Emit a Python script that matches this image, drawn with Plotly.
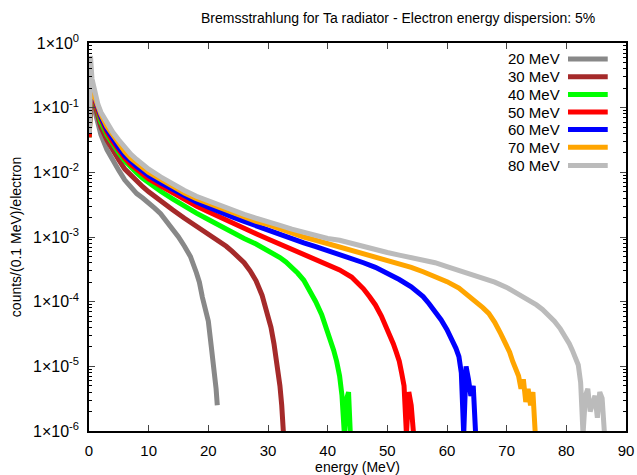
import plotly.graph_objects as go

# ---------------- data ----------------
series_names = ["20 MeV", "30 MeV", "40 MeV", "50 MeV", "60 MeV", "70 MeV", "80 MeV"]
series_colors = ["#888888", "#a52a2a", "#00ff00", "#ff0000", "#0000ff", "#ffa500", "#bbbbbb"]

energy_20 = [0.05, 0.25, 0.5, 1, 1.5, 2, 3, 4, 5, 6, 7, 8, 9, 10, 11, 12, 13, 14, 15, 16, 17, 18,
             18.5, 19, 19.5, 20, 20.5, 21, 21.3, 21.5]
counts_20 = [0.035, 0.166, 0.132, 0.083, 0.055, 0.038, 0.0224, 0.0151, 0.0107, 7.6e-3, 5.9e-3, 4.7e-3,
             4.0e-3, 3.4e-3, 2.8e-3, 2.3e-3, 1.78e-3, 1.35e-3, 1.0e-3, 7.2e-4, 5.0e-4, 2.8e-4,
             2.0e-4, 1.17e-4, 7.9e-5, 5.0e-5, 2.0e-5, 8.9e-6, 4.5e-6, 2.5e-6]

energy_30 = [0.05, 0.25, 0.5, 1, 1.5, 2, 3, 4, 5, 6, 7, 8, 9, 10, 12, 14, 16, 18, 20, 22, 23, 24, 25,
             26, 27, 28, 29, 30, 30.5, 31, 31.5, 32, 32.3, 32.6]
counts_30 = [0.035, 0.182, 0.158, 0.102, 0.071, 0.050, 0.0316, 0.0214, 0.0155, 0.0112, 8.9e-3, 7.2e-3,
             6.0e-3, 5.0e-3, 3.55e-3, 2.63e-3, 1.95e-3, 1.48e-3, 1.12e-3, 8.5e-4, 7.2e-4, 6.0e-4,
             5.0e-4, 4.0e-4, 3.0e-4, 2.1e-4, 1.26e-4, 6.3e-5, 4.0e-5, 2.24e-5, 1.12e-5, 5.0e-6,
             2.5e-6, 8.9e-7]

energy_40 = [0.05, 0.25, 0.5, 1, 1.5, 2, 3, 4, 5, 6, 7, 8, 9, 10, 12, 14, 16, 18, 20, 22, 24, 26, 28,
             30, 32, 33, 34, 35, 36, 37, 38, 39, 40, 40.5, 41, 41.5, 42, 42.4, 42.8, 43.2, 43.5, 43.8]
counts_40 = [0.035, 0.20, 0.174, 0.115, 0.083, 0.060, 0.038, 0.0269, 0.020, 0.0151, 0.012, 9.8e-3,
             8.1e-3, 6.9e-3, 5.1e-3, 3.9e-3, 2.95e-3, 2.34e-3, 1.86e-3, 1.48e-3, 1.17e-3, 9.5e-4,
             7.8e-4, 6.2e-4, 4.8e-4, 4.1e-4, 3.4e-4, 2.75e-4, 2.14e-4, 1.51e-4, 1.0e-4, 6.3e-5,
             3.5e-5, 2.5e-5, 1.78e-5, 1.2e-5, 7.1e-6, 3.5e-6, 8.9e-7, 3.2e-6, 4.0e-6, 8.9e-7]

energy_50 = [0.05, 0.25, 0.5, 1, 1.5, 2, 3, 4, 5, 6, 7, 8, 9, 10, 12, 14, 16, 18, 20, 22, 24, 26, 28,
             30, 32, 34, 36, 38, 40, 42, 44, 45, 46, 47, 48, 49, 50, 50.5, 51, 51.5, 52, 52.4, 52.8,
             53.2, 53.6, 54.0, 54.4]
counts_50 = [0.035, 0.209, 0.182, 0.123, 0.089, 0.068, 0.042, 0.0295, 0.0219, 0.0166, 0.0132, 0.011,
             9.3e-3, 7.9e-3, 6.2e-3, 4.8e-3, 3.7e-3, 3.0e-3, 2.45e-3, 2.0e-3, 1.62e-3, 1.35e-3,
             1.12e-3, 9.3e-4, 7.8e-4, 6.3e-4, 5.25e-4, 4.5e-4, 3.8e-4, 3.1e-4, 2.4e-4, 2.0e-4,
             1.58e-4, 1.2e-4, 8.9e-5, 6.0e-5, 3.8e-5, 3.0e-5, 2.24e-5, 1.66e-5, 1.2e-5, 7.9e-6,
             5.0e-6, 8.9e-7, 4.0e-6, 2.5e-6, 8.9e-7]

energy_60 = [0.05, 0.25, 0.5, 1, 1.5, 2, 3, 4, 5, 6, 7, 8, 9, 10, 12, 14, 16, 18, 20, 22, 24, 26, 28,
             30, 32, 34, 36, 38, 40, 42, 44, 46, 48, 50, 52, 54, 55, 56, 57, 58, 59, 60, 60.5, 61,
             61.5, 62, 62.4, 62.8, 63.2, 63.6, 64.0, 64.4, 64.8]
counts_60 = [0.040, 0.219, 0.191, 0.132, 0.095, 0.072, 0.046, 0.032, 0.024, 0.0182, 0.0148, 0.0123,
             0.0105, 8.9e-3, 6.9e-3, 5.5e-3, 4.27e-3, 3.47e-3, 2.9e-3, 2.4e-3, 2.04e-3, 1.74e-3,
             1.48e-3, 1.29e-3, 1.10e-3, 9.3e-4, 8.1e-4, 7.1e-4, 6.2e-4, 5.4e-4, 4.7e-4, 4.0e-4,
             3.4e-4, 2.75e-4, 2.2e-4, 1.7e-4, 1.45e-4, 1.2e-4, 9.3e-5, 7.1e-5, 5.25e-5, 3.7e-5,
             3.0e-5, 2.4e-5, 1.9e-5, 1.41e-5, 7.9e-6, 8.9e-7, 1.0e-5, 6.3e-6, 3.5e-6, 5.0e-6, 8.9e-7]

energy_70 = [0.05, 0.25, 0.5, 1, 1.5, 2, 3, 4, 5, 6, 7, 8, 9, 10, 12, 14, 16, 18, 20, 22, 24, 26, 28,
             30, 32, 34, 36, 38, 40, 42, 44, 46, 48, 50, 52, 54, 56, 58, 60, 62, 64, 65, 66, 67, 68,
             69, 70, 70.5, 71, 71.5, 72, 72.4, 72.8, 73.2, 73.6, 74.0, 74.4, 74.8]
counts_70 = [0.042, 0.224, 0.191, 0.141, 0.105, 0.079, 0.051, 0.037, 0.0275, 0.0209, 0.0166, 0.0138,
             0.0117, 0.0100, 7.8e-3, 6.0e-3, 4.8e-3, 3.9e-3, 3.3e-3, 2.75e-3, 2.34e-3, 2.04e-3,
             1.74e-3, 1.55e-3, 1.32e-3, 1.15e-3, 1.0e-3, 8.9e-4, 7.9e-4, 7.2e-4, 6.3e-4, 5.6e-4,
             5.0e-4, 4.5e-4, 3.9e-4, 3.4e-4, 2.9e-4, 2.45e-4, 2.04e-4, 1.62e-4, 1.17e-4, 9.8e-5,
             8.1e-5, 6.6e-5, 4.8e-5, 3.2e-5, 2.1e-5, 1.66e-5, 1.2e-5, 8.9e-6, 7.1e-6, 4.5e-6,
             6.3e-6, 2.8e-6, 4.5e-6, 2.5e-6, 4.0e-6, 8.9e-7]

energy_80 = [0.05, 0.25, 0.5, 1, 1.5, 2, 3, 4, 5, 6, 7, 8, 9, 10, 12, 14, 16, 18, 20, 22, 24, 26, 28,
             30, 32, 34, 36, 38, 40, 42, 44, 46, 48, 50, 52, 54, 56, 58, 60, 62, 64, 66, 68, 70, 72,
             74, 75, 76, 77, 78, 79, 80, 80.5, 81, 81.5, 82, 82.4, 82.8, 83.2, 83.6, 84.0, 84.4,
             84.8, 85.2, 85.6, 86.0, 86.4]
counts_80 = [0.040, 0.63, 0.28, 0.158, 0.112, 0.085, 0.0575, 0.0417, 0.0316, 0.0240, 0.0191, 0.0158,
             0.0132, 0.0112, 8.5e-3, 6.6e-3, 5.25e-3, 4.27e-3, 3.63e-3, 3.02e-3, 2.57e-3, 2.24e-3,
             1.95e-3, 1.74e-3, 1.51e-3, 1.32e-3, 1.17e-3, 1.05e-3, 9.5e-4, 8.9e-4, 7.9e-4, 7.1e-4,
             6.5e-4, 5.75e-4, 5.25e-4, 4.8e-4, 4.4e-4, 4.0e-4, 3.47e-4, 3.02e-4, 2.63e-4, 2.29e-4,
             2.0e-4, 1.66e-4, 1.32e-4, 1.05e-4, 8.9e-5, 7.6e-5, 6.3e-5, 5.0e-5, 3.8e-5, 2.8e-5,
             2.24e-5, 1.78e-5, 1.41e-5, 1.05e-5, 5.6e-6, 8.9e-7, 3.5e-6, 4.5e-6, 2.0e-6, 2.8e-6,
             3.5e-6, 1.6e-6, 4.0e-6, 3.2e-6, 8.9e-7]

x_tick_values = [0, 10, 20, 30, 40, 50, 60, 70, 80, 90]
y_tick_values = [1e0, 1e-1, 1e-2, 1e-3, 1e-4, 1e-5, 1e-6]
y_tick_labels = ["1×10<sup>0</sup>", "1×10<sup>-1</sup>", "1×10<sup>-2</sup>", "1×10<sup>-3</sup>",
                 "1×10<sup>-4</sup>", "1×10<sup>-5</sup>", "1×10<sup>-6</sup>"]

all_energy = [energy_20, energy_30, energy_40, energy_50, energy_60, energy_70, energy_80]
all_counts = [counts_20, counts_30, counts_40, counts_50, counts_60, counts_70, counts_80]

# ---------------- figure ----------------
FONT = "Liberation Sans, Arial, Helvetica, sans-serif"
fig = go.Figure()
for name, color, ex, cy in zip(series_names, series_colors, all_energy, all_counts):
    fig.add_trace(go.Scatter(x=ex, y=cy, mode="lines", name=name,
                             line=dict(color=color, width=5), showlegend=False))

minor_y = [k * 10.0 ** n for n in range(-6, 0) for k in range(2, 10)]

fig.update_layout(
    width=637, height=475,
    margin=dict(l=89, r=11, t=43, b=44),
    paper_bgcolor="white", plot_bgcolor="white",
    font=dict(family=FONT, size=14, color="black"),
    title=dict(text="Bremsstrahlung for Ta radiator - Electron energy dispersion: 5%",
               x=0.625, xanchor="center", y=0.962, yanchor="middle",
               font=dict(family=FONT, size=14, color="black")),
    xaxis=dict(range=[0, 90], tickvals=x_tick_values, ticks="inside", ticklen=6, tickwidth=1,
               showline=True, linecolor="black", linewidth=1.5, mirror="allticks",
               showgrid=False, zeroline=False, tickfont=dict(size=15), automargin=False,
               ticklabelstandoff=5,
               title=dict(text="energy (MeV)", font=dict(size=14), standoff=4)),
    yaxis=dict(type="log", range=[-6, 0], tickvals=y_tick_values, ticktext=y_tick_labels,
               ticks="inside", ticklen=6, tickwidth=1, automargin=False,
               showline=True, linecolor="black", linewidth=1.5, mirror="allticks",
               showgrid=False, zeroline=False, tickfont=dict(size=16), ticklabelstandoff=5,
               minor=dict(tickvals=minor_y, ticks="inside", ticklen=3, tickwidth=1,
                          tickcolor="black", showgrid=False),
               title=dict(text="counts/(0.1 MeV)/electron", font=dict(size=14), standoff=8)),
)

# gnuplot-style key: label on the left, line sample on the right
row_y = [0.959, 0.913, 0.867, 0.822, 0.777, 0.731, 0.684]
for name, color, ry in zip(series_names, series_colors, row_y):
    fig.add_annotation(x=0.880, y=ry, xref="paper", yref="paper", text=name, showarrow=False,
                       xanchor="right", yanchor="middle", font=dict(family=FONT, size=15))
    fig.add_shape(type="line", xref="paper", yref="paper", x0=0.892, x1=0.966, y0=ry, y1=ry,
                  line=dict(color=color, width=5))

fig.write_html("out.html", config={"displayModeBar": False},
               post_script="document.body.style.margin='0';document.body.style.padding='0';")
